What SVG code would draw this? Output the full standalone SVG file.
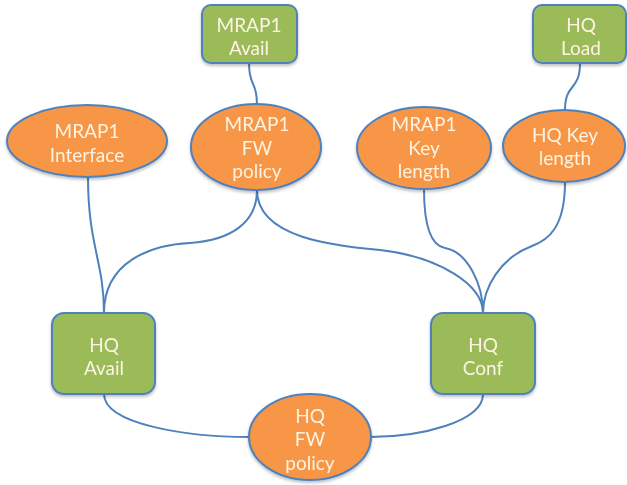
<svg xmlns="http://www.w3.org/2000/svg" width="627" height="485" viewBox="0 0 627 485">
<style>
.box{fill:#9bbb59;stroke:#4f81bd;stroke-width:2}
.ell{fill:#f79646;stroke:#4f81bd;stroke-width:2}
.lbl{font-family:Lato,"Open Sans","Liberation Sans",sans-serif;font-size:19px;fill:#fdf3e3;text-anchor:middle}
.conn{fill:none;stroke:#4f81bd;stroke-width:2}
</style>
<defs>
<filter id="sh" x="-20%" y="-20%" width="140%" height="150%">
<feDropShadow dx="0" dy="2" stdDeviation="1.5" flood-color="#000" flood-opacity="0.25"/>
</filter>
</defs>
<g id="connectors">
<path class="conn" d="M249,63 C249,88 257,80 257,104"/>
<path class="conn" d="M580,63 C580,92 565,82 565,110"/>
<path class="conn" d="M104,313 C104,262 88,245 88,177"/>
<path class="conn" d="M104,313 C104,262 150,245 190,243 C232,240 257,222 257,190"/>
<path class="conn" d="M257,190 C257,238 335,246 380,250 C440,257 483,285 483,313"/>
<path class="conn" d="M424,189 C424,232 433,246 445,248 C468,252 483,285 483,313"/>
<path class="conn" d="M565,182 C565,228 548,240 532,246 C500,258 483,288 483,313"/>
<path class="conn" d="M104,394 C104,425 190,437 249,437"/>
<path class="conn" d="M483,394 C483,422 420,437 370,437"/>
</g>
<g id="mrap1-avail" filter="url(#sh)">
<rect class="box" x="202" y="5" width="95" height="58" rx="9"/>
<text class="lbl" x="249" y="32">MRAP1</text>
<text class="lbl" x="249" y="55">Avail</text>
</g>
<g id="hq-load" filter="url(#sh)">
<rect class="box" x="533" y="5" width="93" height="58" rx="9"/>
<text class="lbl" x="581" y="32">HQ</text>
<text class="lbl" x="581" y="55">Load</text>
</g>
<g id="mrap1-interface" filter="url(#sh)">
<ellipse class="ell" cx="87" cy="141" rx="80" ry="36"/>
<text class="lbl" x="87" y="138">MRAP1</text>
<text class="lbl" x="87" y="162">Interface</text>
</g>
<g id="mrap1-fw-policy" filter="url(#sh)">
<ellipse class="ell" cx="256" cy="147" rx="65" ry="43"/>
<text class="lbl" x="257" y="131">MRAP1</text>
<text class="lbl" x="257" y="155">FW</text>
<text class="lbl" x="257" y="178">policy</text>
</g>
<g id="mrap1-key-length" filter="url(#sh)">
<ellipse class="ell" cx="424" cy="148" rx="67" ry="41"/>
<text class="lbl" x="424" y="131">MRAP1</text>
<text class="lbl" x="424" y="155">Key</text>
<text class="lbl" x="424" y="178">length</text>
</g>
<g id="hq-key-length" filter="url(#sh)">
<ellipse class="ell" cx="564" cy="146" rx="61" ry="36"/>
<text class="lbl" x="565" y="142">HQ Key</text>
<text class="lbl" x="565" y="165">length</text>
</g>
<g id="hq-avail" filter="url(#sh)">
<rect class="box" x="52" y="313" width="103" height="81" rx="12"/>
<text class="lbl" x="104" y="352">HQ</text>
<text class="lbl" x="104" y="375">Avail</text>
</g>
<g id="hq-conf" filter="url(#sh)">
<rect class="box" x="431" y="313" width="104" height="81" rx="12"/>
<text class="lbl" x="483" y="352">HQ</text>
<text class="lbl" x="483" y="375">Conf</text>
</g>
<g id="hq-fw-policy" filter="url(#sh)">
<ellipse class="ell" cx="310" cy="437" rx="61" ry="43"/>
<text class="lbl" x="310" y="423">HQ</text>
<text class="lbl" x="310" y="446">FW</text>
<text class="lbl" x="310" y="470">policy</text>
</g>
</svg>
